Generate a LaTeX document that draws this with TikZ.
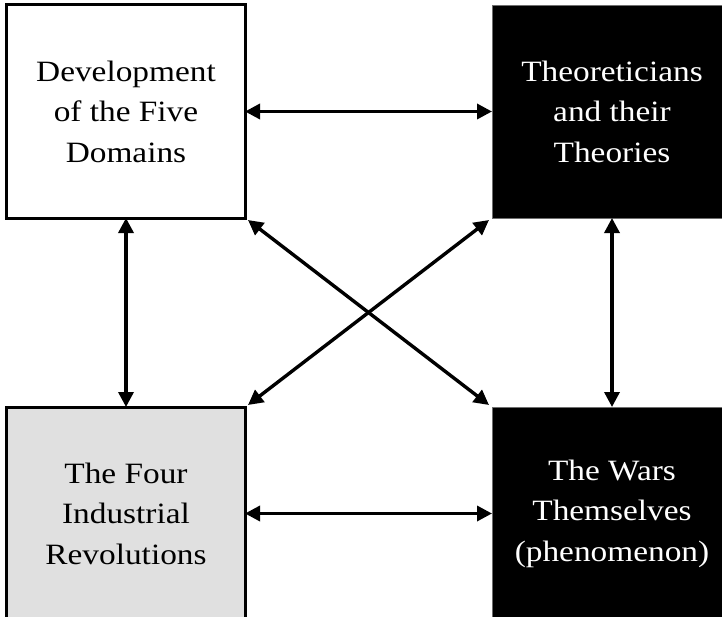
\documentclass[tikz,border=0pt]{standalone}
\usepackage{fontspec}
\setmainfont{Liberation Serif}[FakeStretch=1.13]
\usetikzlibrary{arrows.meta}
\begin{document}
\begin{tikzpicture}[x=1bp,y=-1bp,
  box/.style={rectangle, inner sep=0pt, outer sep=0pt, align=center,
    font=\fontsize{29.5bp}{40.5bp}\selectfont},
  whitebox/.style={box, draw=black, line width=3bp, fill=white, text=black},
  graybox/.style={box, draw=black, line width=3bp, fill={rgb,255:red,224;green,224;blue,224}, text=black},
  blackbox/.style={box, draw={rgb,255:red,110;green,110;blue,110}, line width=0.8bp, fill=black, text=white},
  link/.style={line width=3.4bp, {Triangle[length=15bp,width=15bp]}-{Triangle[length=15bp,width=15bp]}}
]
\useasboundingbox (0,0) rectangle (722,617);
\clip (0,0) rectangle (722,617);
\node[whitebox, minimum width=238bp, minimum height=213bp] (tl) at (126,111.5)
  {Development\\of the Five\\Domains};
\node[blackbox, minimum width=240bp, minimum height=213bp] (tr) at (612,111.5)
  {Theoreticians\\and their\\Theories};
\node[graybox, minimum width=238bp, minimum height=213bp] (bl) at (126,513.5)
  {The Four\\Industrial\\Revolutions};
\node[blackbox, minimum width=240bp, minimum height=213bp] (br) at (612,513.5)
  {The Wars\\Themselves\\(phenomenon)};
\draw[link] (tl) -- (tr);
\draw[link] (bl) -- (br);
\draw[link] (tl) -- (bl);
\draw[link] (tr) -- (br);
\draw[link] ([xshift=3bp,yshift=-2bp]tl.south east) -- ([xshift=-3bp,yshift=2bp]br.north west);
\draw[link] ([xshift=-3bp,yshift=-2bp]tr.south west) -- ([xshift=3bp,yshift=2bp]bl.north east);
\end{tikzpicture}
\end{document}
